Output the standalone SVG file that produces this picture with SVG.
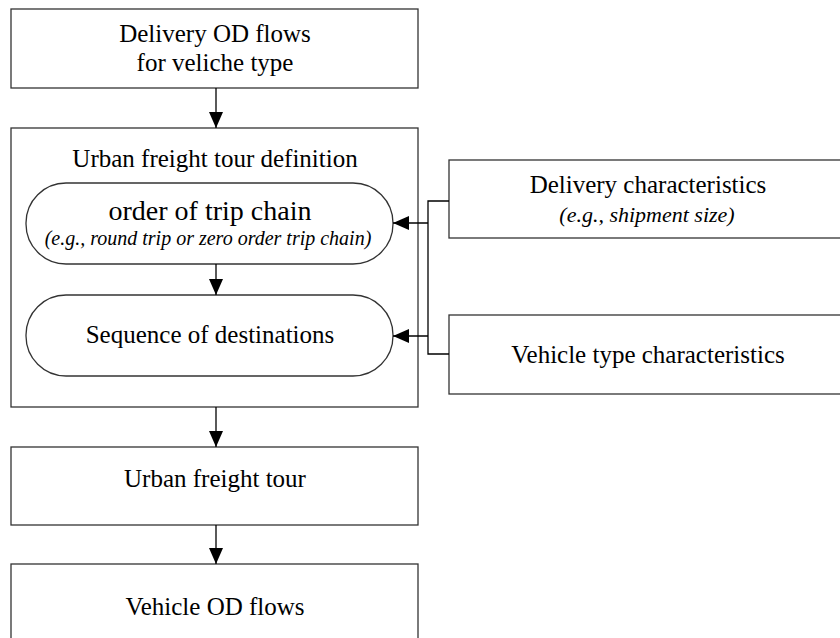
<svg xmlns="http://www.w3.org/2000/svg" width="840" height="638" viewBox="0 0 840 638">
<defs>
<marker id="ah" markerUnits="userSpaceOnUse" markerWidth="16" markerHeight="16" viewBox="0 0 16 16" refX="16" refY="8" orient="auto">
<path d="M0,1 L16,8 L0,15 Z" fill="#000"/>
</marker>
</defs>
<style>
.box{fill:#fff;stroke:#333;stroke-width:1.3}
.t{font-family:"Liberation Serif","Times New Roman",serif;font-size:25px;fill:#000;text-anchor:middle}
.i{font-family:"Liberation Serif","Times New Roman",serif;font-style:italic;fill:#000;text-anchor:middle}
.c{fill:none;stroke:#000;stroke-width:1.3}
</style>
<rect width="840" height="638" fill="#fff"/>
<g id="delivery-od">
<rect class="box" x="11" y="9" width="407" height="79"/>
<text class="t" x="215" y="42">Delivery OD flows</text>
<text class="t" x="215" y="71">for veliche type</text>
</g>
<g id="tour-definition">
<rect class="box" x="11" y="128" width="407" height="279"/>
<text class="t" x="215" y="167">Urban freight tour definition</text>
</g>
<g id="order-trip-chain">
<rect class="box" x="26" y="183" width="367" height="81" rx="40" ry="40"/>
<text class="t" x="210" y="220" style="font-size:28px">order of trip chain</text>
<text class="i" x="208" y="245" style="font-size:20px">(e.g., round trip or zero order trip chain)</text>
</g>
<g id="sequence">
<rect class="box" x="26" y="295" width="367" height="81" rx="40" ry="40"/>
<text class="t" x="210" y="343">Sequence of destinations</text>
</g>
<g id="delivery-char">
<rect class="box" x="449" y="160" width="400" height="78"/>
<text class="t" x="648" y="193">Delivery characteristics</text>
<text class="i" x="647" y="222" style="font-size:22px">(e.g., shipment size)</text>
</g>
<g id="vehicle-char">
<rect class="box" x="449" y="315" width="400" height="79"/>
<text class="t" x="648" y="363">Vehicle type characteristics</text>
</g>
<g id="urban-tour">
<rect class="box" x="11" y="447" width="407" height="78"/>
<text class="t" x="215" y="487">Urban freight tour</text>
</g>
<g id="vehicle-od">
<rect class="box" x="11" y="564" width="407" height="80"/>
<text class="t" x="215" y="615">Vehicle OD flows</text>
</g>
<g id="connectors">
<line class="c" x1="216" y1="88" x2="216" y2="128" marker-end="url(#ah)"/>
<line class="c" x1="216" y1="264" x2="216" y2="295" marker-end="url(#ah)"/>
<line class="c" x1="216" y1="407" x2="216" y2="447" marker-end="url(#ah)"/>
<line class="c" x1="216" y1="525" x2="216" y2="564" marker-end="url(#ah)"/>
<polyline class="c" points="449,201 428,201 428,354 449,354"/>
<line class="c" x1="428" y1="223" x2="393" y2="223" marker-end="url(#ah)"/>
<line class="c" x1="428" y1="336" x2="393" y2="336" marker-end="url(#ah)"/>
</g>
</svg>
